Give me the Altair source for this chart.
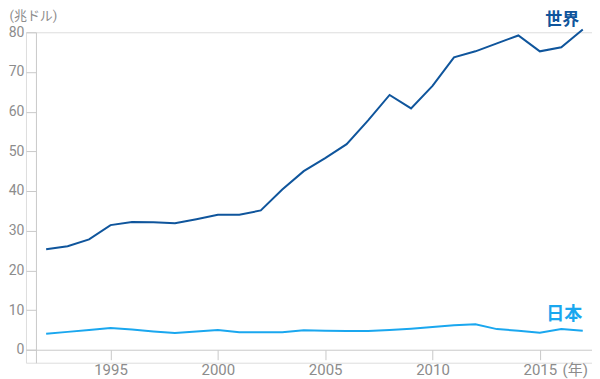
import altair as alt
import pandas as pd

years = list(range(1992, 2018))
world = [25.3, 26.1, 27.8, 31.4, 32.2, 32.1, 31.9, 32.9, 34.0, 34.0, 35.1, 40.4,
         45.0, 48.3, 51.8, 57.8, 64.2, 60.8, 66.5, 73.7, 75.2, 77.2, 79.2, 75.2, 76.2, 80.7]
japan = [4.0, 4.5, 5.0, 5.5, 5.1, 4.6, 4.2, 4.6, 5.0, 4.4, 4.4, 4.4,
         4.9, 4.8, 4.75, 4.7, 5.0, 5.3, 5.7, 6.2, 6.4, 5.2, 4.8, 4.3, 5.2, 4.8]
series_names = ["世界", "日本"]
series_colors = ["#0f559c", "#1aa7ef"]
x_ticks = [1995, 2000, 2005, 2010, 2015]
y_ticks = [0, 10, 20, 30, 40, 50, 60, 70, 80]

df = pd.DataFrame({
    "year": years * 2,
    "value": world + japan,
    "series": [series_names[0]] * len(years) + [series_names[1]] * len(years),
})

FONT = "Roboto, 'Noto Sans CJK JP', sans-serif"
AXIS_GRAY = "#c9c9c9"
LABEL_GRAY = "#8c8c8c"

x = alt.X("year:Q",
          scale=alt.Scale(domain=[1991.06, 2017.43], nice=False, zero=False),
          axis=alt.Axis(values=x_ticks, format="d", grid=False, offset=-13,
                        tickSize=10, tickColor=AXIS_GRAY, domainColor=AXIS_GRAY,
                        labelColor=LABEL_GRAY, labelFontSize=15, labelFont=FONT,
                        labelPadding=3, title="(年)", titleFont=FONT,
                        titleFontSize=15, titleFontWeight="normal",
                        titleColor=LABEL_GRAY, titleAlign="left",
                        titleBaseline="alphabetic", titleX=537, titleY=25))
y = alt.Y("value:Q",
          scale=alt.Scale(domain=[-3.27, 80], nice=False, zero=False),
          axis=alt.Axis(values=y_ticks, grid=False, offset=-10,
                        tickSize=10, tickColor=AXIS_GRAY, domainColor=AXIS_GRAY,
                        labelColor=LABEL_GRAY, labelFontSize=14, labelFont=FONT,
                        labelPadding=2, title="(兆ドル)", titleFont=FONT,
                        titleFontSize=13, titleFontWeight="normal",
                        titleColor=LABEL_GRAY, titleAngle=0, titleAlign="left",
                        titleBaseline="top", titleX=-27, titleY=-23))
color = alt.Color("series:N",
                  scale=alt.Scale(domain=series_names, range=series_colors),
                  legend=None)

lines = alt.Chart(df).mark_line(strokeWidth=2).encode(x=x, y=y, color=color)

world_label = alt.Chart(df).transform_filter(
    (alt.datum.year == 2016) & (alt.datum.series == series_names[0])
).mark_text(fontSize=17, fontWeight="bold", font=FONT, dx=1, dy=-27,
            baseline="middle", align="center").encode(
    x="year:Q", y="value:Q", text="series:N", color=color)

japan_label = alt.Chart(df).transform_filter(
    (alt.datum.year == 2016) & (alt.datum.series == series_names[1])
).mark_text(fontSize=18, fontWeight="bold", font=FONT, dx=3, dy=-14,
            baseline="middle", align="center").encode(
    x="year:Q", y="value:Q", text="series:N", color=color)

chart = alt.layer(lines, world_label, japan_label).properties(
    width=567, height=331,
    autosize=alt.AutoSizeParams(type="none"),
    padding={"left": 18, "top": 24, "right": 0, "bottom": 16},
).configure_view(stroke=None).configure(background="white")

chart.save("out.html", embed_options={"renderer": "svg", "actions": False})
